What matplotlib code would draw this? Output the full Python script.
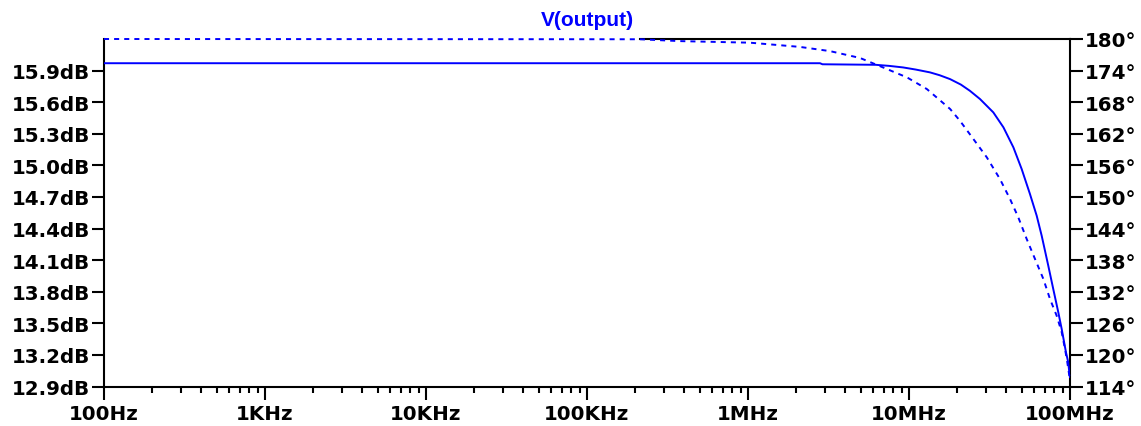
import matplotlib
matplotlib.use("Agg")
import matplotlib.pyplot as plt
from matplotlib.ticker import FixedLocator, LogLocator, NullFormatter

# ---- data ----
mag_freq = [100, 2.8e6, 2.9e6, 6.2e6, 7.5e6, 9.19e6, 11e6, 13.5e6, 15.5e6, 18.0e6, 21e6,
            23.9e6, 27.6e6, 33.4e6, 38.6e6, 44.5e6, 50.1e6, 56.4e6, 62.1e6, 66.7e6,
            73.3e6, 78.7e6, 84.6e6, 88.8e6, 94.4e6, 97.5e6, 99.0e6, 100e6]
mag_db = [15.97, 15.97, 15.96, 15.955, 15.945, 15.930, 15.910, 15.883, 15.856, 15.819, 15.767,
          15.708, 15.630, 15.503, 15.361, 15.171, 14.965, 14.728, 14.522, 14.332,
          14.047, 13.826, 13.604, 13.446, 13.225, 13.130, 13.035, 12.99]

ph_freq = [100, 2.13e5, 3.78e5, 1.03e6, 2.1e6, 3.23e6, 4.96e6, 6.9e6, 9.73e6, 12.9e6,
           18.0e6, 20.7e6, 25.1e6, 30.4e6, 36.7e6, 42.4e6, 47.7e6, 53.8e6, 60.6e6,
           68.3e6, 75.1e6, 82.6e6, 88.8e6, 93.1e6, 96.2e6, 99.0e6, 100e6]
ph_deg = [180.0, 179.95, 179.6, 179.3, 178.5, 177.7, 176.4, 174.6, 172.7, 170.5,
          166.71, 164.49, 161.01, 157.54, 153.42, 149.62, 146.15, 142.03, 138.23,
          134.43, 130.63, 127.46, 124.31, 121.14, 118.61, 116.07, 115.4]

x_ticks = [1e2, 1e3, 1e4, 1e5, 1e6, 1e7, 1e8]
x_labels = ["100Hz", "1KHz", "10KHz", "100KHz", "1MHz", "10MHz", "100MHz"]
db_ticks = [12.9, 13.2, 13.5, 13.8, 14.1, 14.4, 14.7, 15.0, 15.3, 15.6, 15.9]
db_labels = [f"{v:.1f}dB" for v in db_ticks]
deg_ticks = [114, 120, 126, 132, 138, 144, 150, 156, 162, 168, 174, 180]
deg_labels = [f"{v}°" for v in deg_ticks]
title = "V(output)"

BLUE = "#0000ff"
W, H = 1141, 427
fig = plt.figure(figsize=(W / 100, H / 100), dpi=100)
ax = fig.add_axes([104 / W, (H - 387.5) / H, 966 / W, 347.5 / H])
ax2 = ax.twinx()

ax.plot(mag_freq, mag_db, color=BLUE, lw=1.4, solid_joinstyle="round", zorder=3)
ax2.plot(ph_freq, ph_deg, color=BLUE, lw=1.4, linestyle=(0, (2.6, 2.6)),
         clip_on=False, zorder=3)

ax.set_xscale("log")
ax.set_xlim(1e2, 1e8)
ax.set_ylim(12.9, 16.2)
ax2.set_ylim(114, 180)

tick_font = dict(family="DejaVu Sans", weight="bold", size=14.3)

ax.xaxis.set_major_locator(FixedLocator(x_ticks))
ax.set_xticklabels(x_labels, **tick_font)
ax.xaxis.set_minor_locator(LogLocator(base=10, subs=range(2, 10), numticks=100))
ax.xaxis.set_minor_formatter(NullFormatter())
ax.tick_params(axis="x", which="major", direction="out", length=9.4, width=1.5, pad=3.5)
ax.tick_params(axis="x", which="minor", direction="out", length=4.3, width=1.5)

ax.set_yticks(db_ticks)
ax.set_yticklabels(db_labels, **tick_font)
ax.tick_params(axis="y", direction="out", length=8.6, width=1.5, pad=1.4)
ax.yaxis.set_minor_locator(FixedLocator([]))

ax2.set_yticks(deg_ticks)
ax2.set_yticklabels(deg_labels, **tick_font)
ax2.tick_params(axis="y", direction="out", length=9.4, width=1.5, pad=1.4)

for s in ax2.spines.values():
    s.set_visible(False)
for s in ax.spines.values():
    s.set_linewidth(1.5)
    s.set_color("black")
ax.spines["top"].set_bounds(2.13e5, 1e8)

fig.text((104 + 1070) / 2 / W, (H - 21) / H, title, color=BLUE,
         family="Liberation Sans", weight="bold", fontsize=15,
         ha="center", va="center")

fig.savefig("out.png", dpi=100, facecolor="white")
